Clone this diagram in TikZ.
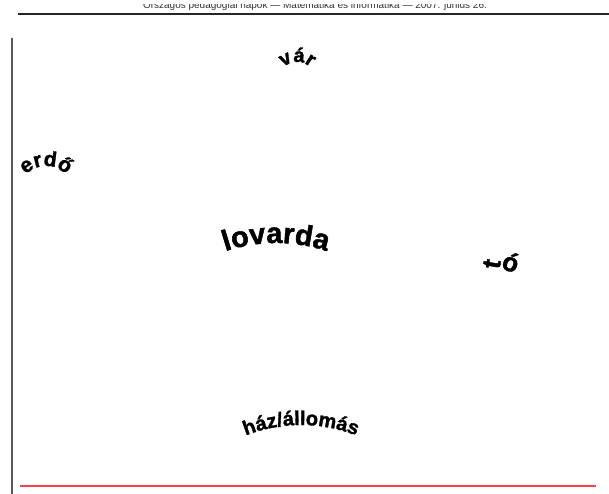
\documentclass[tikz,border=0pt]{standalone}
\usepackage{fontspec}
\setmainfont{Liberation Sans}
\newfontfamily\heavyfont[FakeBold=1.5]{Liberation Sans Bold}
\usetikzlibrary{decorations.text}
\begin{document}
\begin{tikzpicture}[x=1pt,y=1pt,
  arctext/.style 2 args={decorate, decoration={text along path, text align=center, text={|\heavyfont\fontsize{#1}{#1}\selectfont|#2}}},
  headtext/.style={font=\fontsize{10}{12}\selectfont, text=black!80, inner sep=0pt, anchor=base},
  letterbox/.style={font=\heavyfont\fontsize{26}{26}\selectfont, inner sep=0pt}]
\useasboundingbox (0,0) rectangle (609,494);
% header (its upper part lies outside the page)
\begin{scope}
\clip (0,0) rectangle (609,489.5);
\node[headtext] (head) at (315,485.5) {Országos pedagógiai napok — Matematika és informatika — 2007. június 26.};
\end{scope}
\draw[line width=2.5pt, black!85] (18,480) -- (609,480);
% frame lines
\draw[line width=2pt, black!65] (11.5,456) -- (11.5,0);
\draw[line width=2pt, red!75!white] (20,8) -- (596,8);
% centres of arcs
\coordinate (cvar) at (297,412);
\coordinate (cerdo) at (46,300);
\coordinate (clov) at (276,91);
\coordinate (chaz) at (301,-81);
% curved labels
\path[arctext={20}{vár}] ([shift={(165:20)}]cvar) arc[start angle=165, end angle=15, radius=20];
\path[arctext={21}{erdő}] ([shift={(165:28)}]cerdo) arc[start angle=165, end angle=15, radius=28];
\path[arctext={29}{lovarda}] ([shift={(125:160)}]clov) arc[start angle=125, end angle=55, radius=160];
\path[arctext={20}{ház/állomás}] ([shift={(130:150)}]chaz) arc[start angle=130, end angle=50, radius=150];
% tó
\node[letterbox, rotate=80] (tt) at (492,230) {t};
\node[letterbox, rotate=-20] (to) at (511,232) {ó};
\end{tikzpicture}
\end{document}
